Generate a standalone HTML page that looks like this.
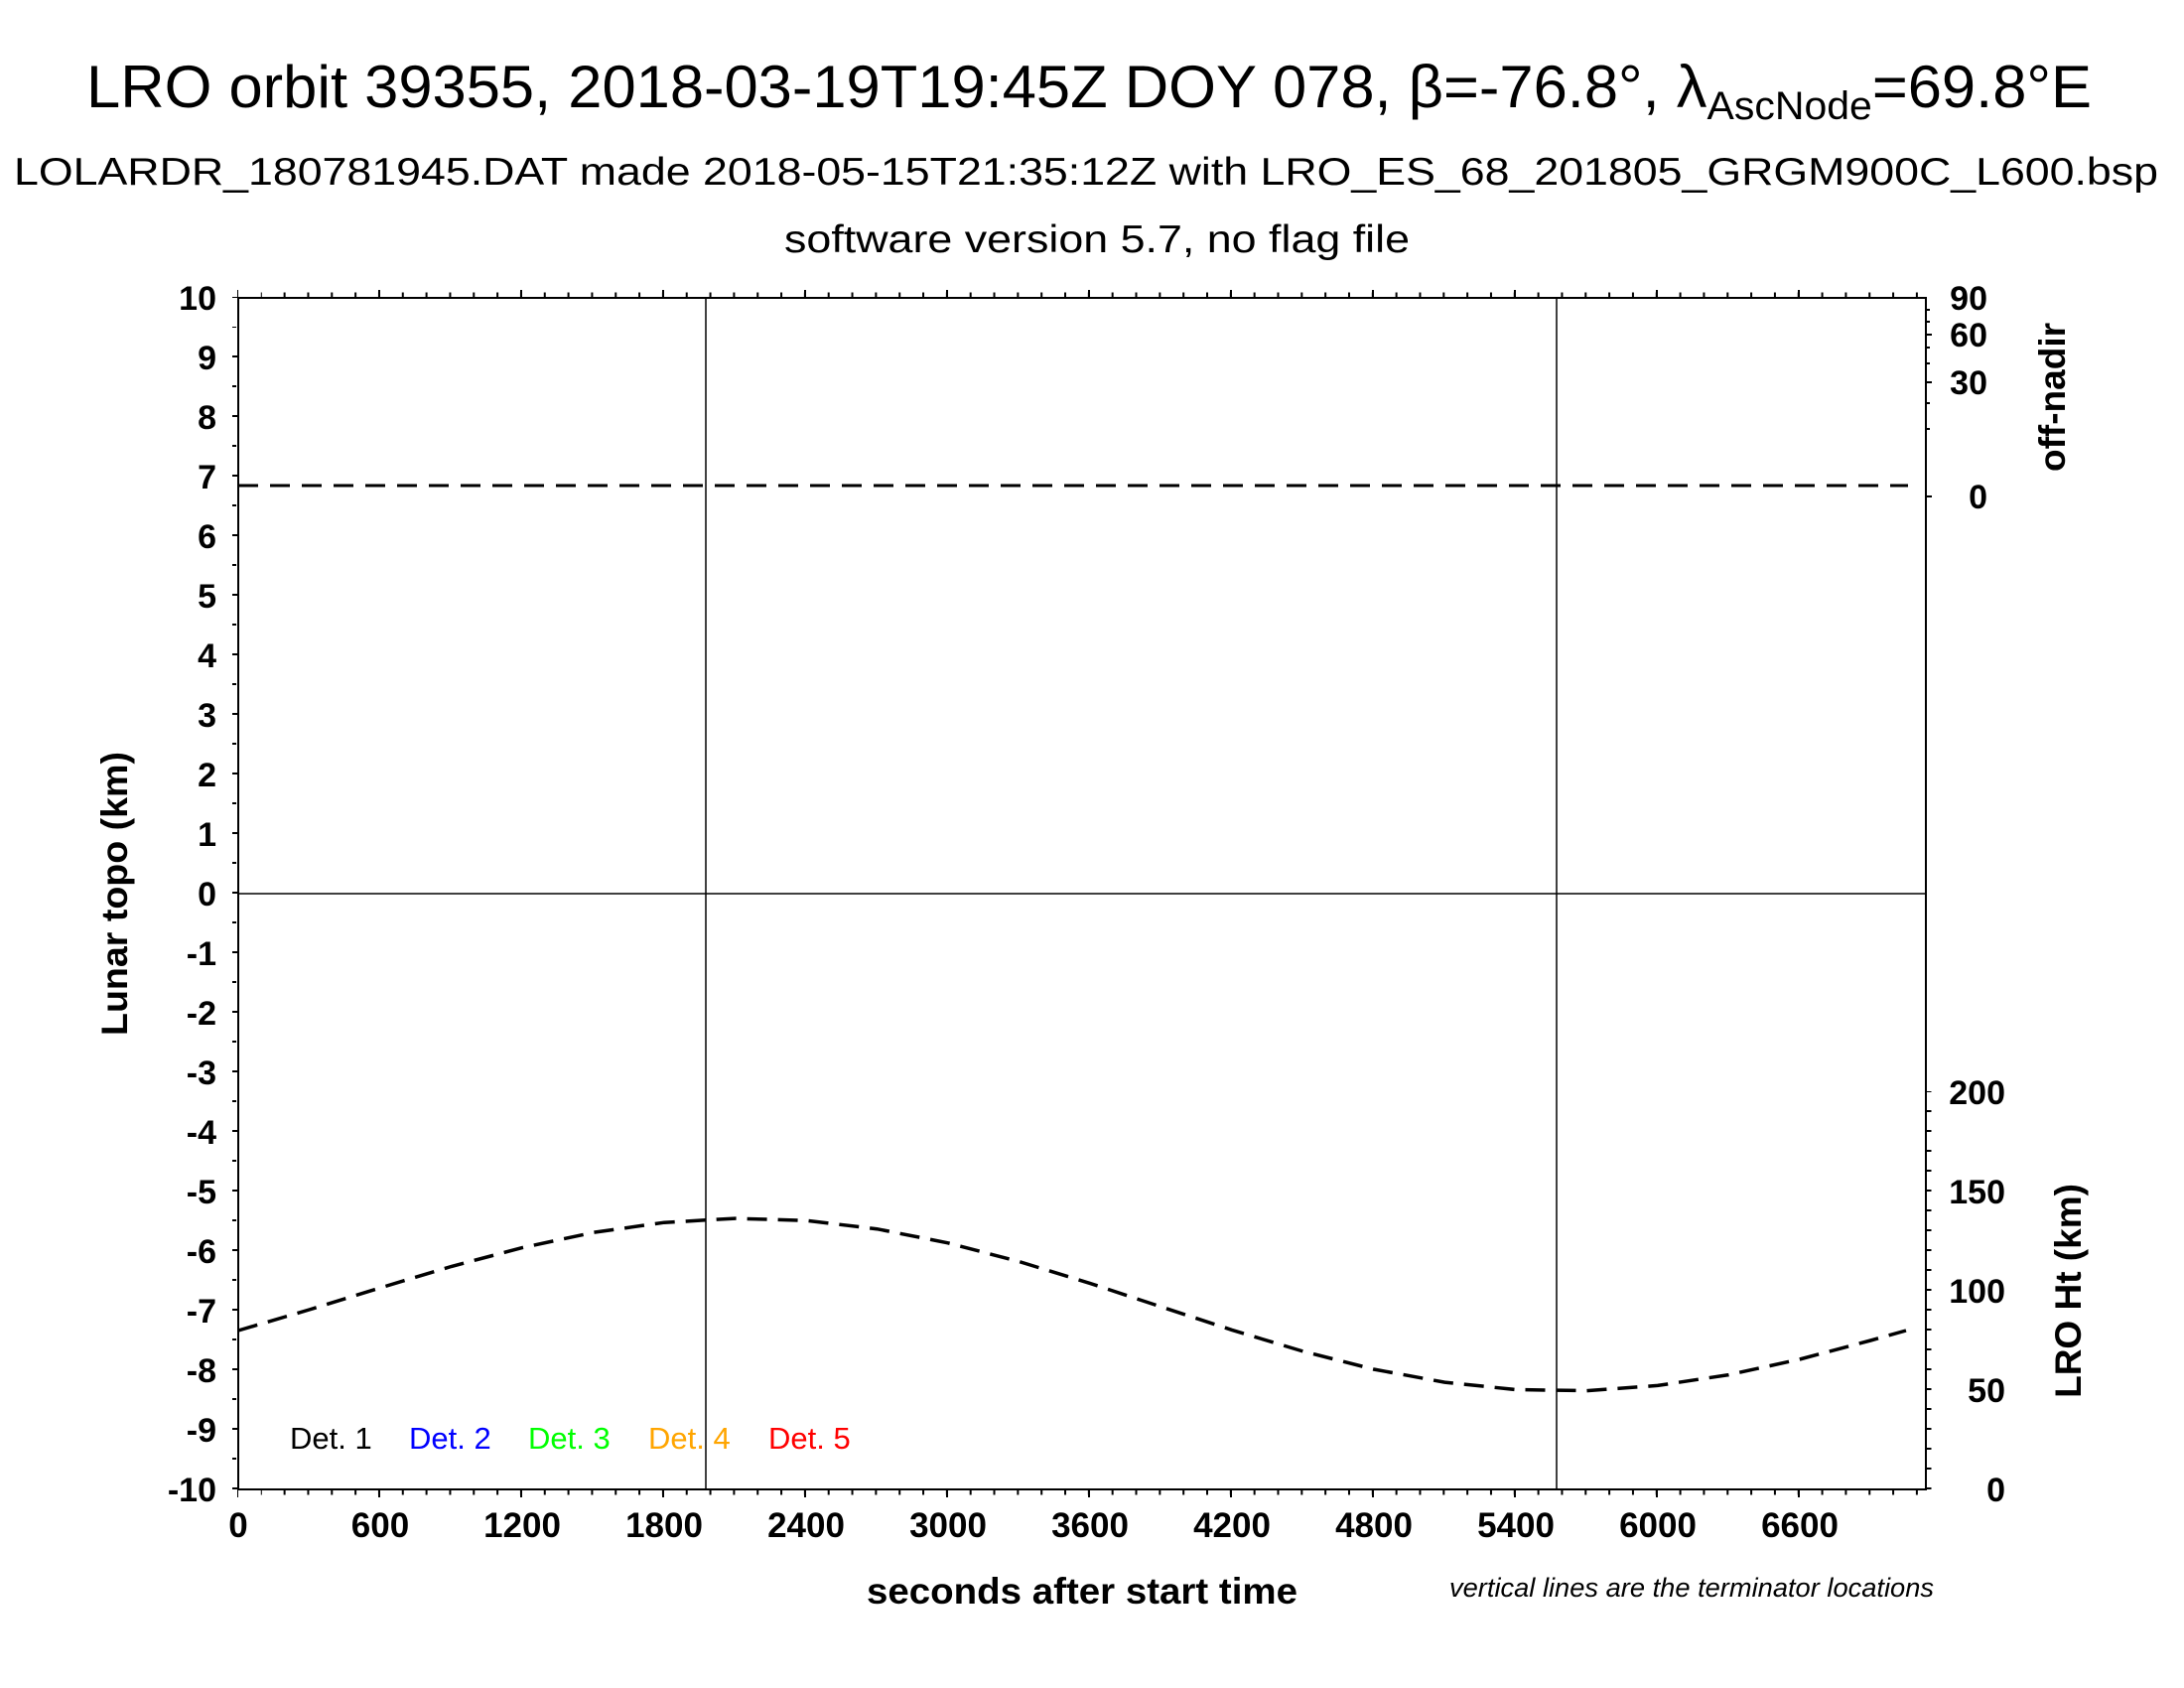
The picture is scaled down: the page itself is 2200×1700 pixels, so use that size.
<!DOCTYPE html>
<html><head><meta charset="utf-8"><style>
html,body{margin:0;padding:0;background:#fff;}
svg{display:block;}
text{font-family:"Liberation Sans",Arial,sans-serif;}
.b{font-weight:bold;}
</style></head><body>
<svg width="2200" height="1700" viewBox="0 0 2200 1700" xmlns="http://www.w3.org/2000/svg">
<rect width="2200" height="1700" fill="#fff"/>
<text x="87" y="108" font-size="60" textLength="2020" lengthAdjust="spacingAndGlyphs">LRO orbit 39355, 2018-03-19T19:45Z DOY 078, β=-76.8°, λ<tspan font-size="40" dy="12">AscNode</tspan><tspan dy="-12">=69.8°E</tspan></text>
<text x="14" y="186" font-size="39" textLength="2160" lengthAdjust="spacingAndGlyphs">LOLARDR_180781945.DAT made 2018-05-15T21:35:12Z with LRO_ES_68_201805_GRGM900C_L600.bsp</text>
<text x="790" y="254" font-size="39" textLength="630" lengthAdjust="spacingAndGlyphs">software version 5.7, no flag file</text>

<line x1="240" y1="900" x2="1940" y2="900" stroke="#000" stroke-width="1.5"/>
<line x1="711" y1="300" x2="711" y2="1500" stroke="#000" stroke-width="1.5"/>
<line x1="1568" y1="300" x2="1568" y2="1500" stroke="#000" stroke-width="1.5"/>

<rect x="240" y="300" width="1700" height="1200" fill="none" stroke="#000" stroke-width="2"/>

<line x1="237" y1="299" x2="237" y2="1501" stroke="#000" stroke-width="6" stroke-dasharray="2 58" stroke-dashoffset="1"/>
<line x1="236" y1="329" x2="236" y2="1501" stroke="#000" stroke-width="4" stroke-dasharray="2 58" stroke-dashoffset="1"/>
<line x1="239" y1="1504" x2="1941" y2="1504" stroke="#000" stroke-width="8" stroke-dasharray="2 141" stroke-dashoffset="1"/>
<line x1="262.8" y1="1503" x2="1941" y2="1503" stroke="#000" stroke-width="5" stroke-dasharray="2 21.83" stroke-dashoffset="1"/>
<line x1="239" y1="296" x2="1941" y2="296" stroke="#000" stroke-width="8" stroke-dasharray="2 141" stroke-dashoffset="1"/>
<line x1="262.8" y1="297" x2="1941" y2="297" stroke="#000" stroke-width="5" stroke-dasharray="2 21.83" stroke-dashoffset="1"/>
<line x1="1943" y1="1099" x2="1943" y2="1501" stroke="#000" stroke-width="5" stroke-dasharray="2 18" stroke-dashoffset="1"/>
<g stroke="#000" stroke-width="2">
<line x1="1940" y1="337" x2="1946" y2="337"/>
<line x1="1940" y1="385" x2="1946" y2="385"/>
<line x1="1940" y1="500" x2="1946" y2="500"/>
<line x1="1940" y1="312" x2="1944" y2="312"/>
<line x1="1940" y1="324" x2="1944" y2="324"/>
<line x1="1940" y1="350" x2="1944" y2="350"/>
<line x1="1940" y1="366" x2="1944" y2="366"/>
<line x1="1940" y1="406" x2="1944" y2="406"/>
<line x1="1940" y1="432" x2="1944" y2="432"/>
</g>

<g class="b" font-size="34" text-anchor="end">
<text x="218" y="312">10</text><text x="218" y="372">9</text><text x="218" y="432">8</text>
<text x="218" y="492">7</text><text x="218" y="552">6</text><text x="218" y="612">5</text>
<text x="218" y="672">4</text><text x="218" y="732">3</text><text x="218" y="792">2</text>
<text x="218" y="852">1</text><text x="218" y="912">0</text><text x="218" y="972">-1</text>
<text x="218" y="1032">-2</text><text x="218" y="1092">-3</text><text x="218" y="1152">-4</text>
<text x="218" y="1212">-5</text><text x="218" y="1272">-6</text><text x="218" y="1332">-7</text>
<text x="218" y="1392">-8</text><text x="218" y="1452">-9</text><text x="218" y="1512">-10</text>
</g>
<g class="b" font-size="35" text-anchor="middle">
<text x="240" y="1548">0</text><text x="383" y="1548">600</text><text x="526" y="1548">1200</text>
<text x="669" y="1548">1800</text><text x="812" y="1548">2400</text><text x="955" y="1548">3000</text>
<text x="1098" y="1548">3600</text><text x="1241" y="1548">4200</text><text x="1384" y="1548">4800</text>
<text x="1527" y="1548">5400</text><text x="1670" y="1548">6000</text><text x="1813" y="1548">6600</text>
</g>
<g class="b" font-size="34" text-anchor="end">
<text x="2020" y="1112">200</text><text x="2020" y="1212">150</text><text x="2020" y="1312">100</text>
<text x="2020" y="1412">50</text><text x="2020" y="1512">0</text>
<text x="2002" y="312">90</text><text x="2002" y="349">60</text><text x="2002" y="397">30</text>
<text x="2002" y="512">0</text>
</g>

<text class="b" font-size="37" text-anchor="middle" transform="translate(128,900) rotate(-90)" textLength="286" lengthAdjust="spacingAndGlyphs">Lunar topo (km)</text>
<text class="b" font-size="37" text-anchor="middle" transform="translate(2080,400) rotate(-90)">off-nadir</text>
<text class="b" font-size="37" text-anchor="middle" transform="translate(2096,1300) rotate(-90)">LRO Ht (km)</text>
<text class="b" font-size="37" x="873" y="1615" textLength="434" lengthAdjust="spacingAndGlyphs">seconds after start time</text>
<text font-size="27" font-style="italic" x="1460" y="1608" textLength="488" lengthAdjust="spacingAndGlyphs">vertical lines are the terminator locations</text>

<g font-size="31">
<text x="292" y="1459" fill="#000">Det. 1</text>
<text x="412" y="1459" fill="#0000ff">Det. 2</text>
<text x="532" y="1459" fill="#00ff00">Det. 3</text>
<text x="653" y="1459" fill="#ffa500">Det. 4</text>
<text x="774" y="1459" fill="#ff0000">Det. 5</text>
</g>

<line x1="240" y1="489" x2="1922" y2="489" stroke="#000" stroke-width="3" stroke-dasharray="20 12"/>
<polyline fill="none" stroke="#000" stroke-width="3.5" stroke-dasharray="20 11"
points="240,1340 311.5,1319 383,1297 454.5,1275.5 526,1256.6 597.5,1241.3 669,1231.2 740.4,1227.1 811.9,1229.2 883.4,1237.7 954.9,1251.8 1026.4,1270.5 1097.9,1292.4 1169.4,1316 1240.9,1339.4 1312.4,1360.9 1383.8,1379 1455.3,1392.1 1526.8,1399.5 1598.3,1400.6 1669.8,1395.4 1741.3,1384.6 1812.8,1369 1884.3,1350 1920,1340"/>
</svg>
</body></html>
